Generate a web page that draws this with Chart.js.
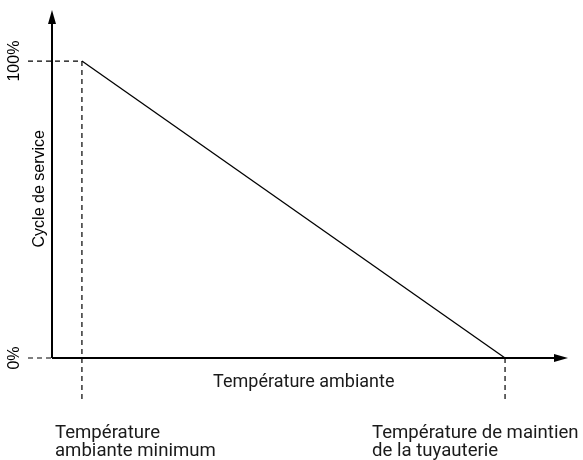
<!DOCTYPE html>
<html lang="fr">
<head>
<meta charset="utf-8">
<title>Cycle de service</title>
<script src="https://cdn.jsdelivr.net/npm/chart.js@4"></script>
<style>
  html, body { margin: 0; padding: 0; background: #fff; }
  #wrap { width: 583px; height: 460px; }
</style>
</head>
<body>
<div id="wrap"><canvas id="dutyChart" width="583" height="460"></canvas></div>
<script>
// températures (échelle relative 0..100 sur l'axe horizontal)
const tempMin = 5.8;       // température ambiante minimum
const tempMaint = 87.8;    // température de maintien de la tuyauterie
const tempAxisMax = 100;

// cycle de service (%)
const dutyValues = [100, 0];
const dutyAxisMax = 117.2;
const tickValues = [0, 100];
const tickLabels = ['0%', '100%'];

// prolongement des repères pointillés hors de la zone du graphe
const guideLeft = -4.65;
const guideBottom = -14.5;

const axisTitleX = 'Température ambiante';
const axisTitleY = 'Cycle de service';
const labelMin = ['Température', 'ambiante minimum'];
const labelMaint = ['Température de maintien', 'de la tuyauterie'];

const dash = [5, 4];

function seg(x0, y0, x1, y1) {
    return [{ x: x0, y: y0 }, { x: x1, y: y1 }];
}

const datasets = [
    // courbe du cycle de service
    {
        data: [{ x: tempMin, y: dutyValues[0] }, { x: tempMaint, y: dutyValues[1] }],
        borderColor: '#000', borderWidth: 1.3
    },
    // repères pointillés
    { data: seg(guideLeft, tickValues[1], tempMin, tickValues[1]), borderDash: dash },
    { data: seg(guideLeft, tickValues[0], 0, tickValues[0]), borderDash: dash },
    { data: seg(tempMin, tickValues[1], tempMin, guideBottom), borderDash: dash },
    { data: seg(tempMaint, 0, tempMaint, guideBottom), borderDash: dash },
    // axes
    { data: seg(0, 0, 0, dutyAxisMax - 3), borderWidth: 2 },
    { data: seg(0, 0, tempAxisMax - 2, 0), borderWidth: 2 }
].map(ds => Object.assign({
    borderColor: '#000', borderWidth: 1.2, pointRadius: 0,
    showLine: true, fill: false, clip: false
}, ds));

// flèches des axes et textes
const annotate = {
    id: 'annotate',
    afterDatasetsDraw(chart) {
        const ctx = chart.ctx;
        const xs = chart.scales.x, ys = chart.scales.y;
        const ox = xs.getPixelForValue(0), oy = ys.getPixelForValue(0);
        const topY = ys.getPixelForValue(dutyAxisMax);
        const rightX = xs.getPixelForValue(tempAxisMax);

        ctx.save();
        ctx.fillStyle = '#000';
        ctx.beginPath();
        ctx.moveTo(ox, topY);
        ctx.lineTo(ox - 4, topY + 14);
        ctx.lineTo(ox + 4, topY + 14);
        ctx.closePath();
        ctx.fill();
        ctx.beginPath();
        ctx.moveTo(rightX, oy);
        ctx.lineTo(rightX - 14, oy - 4);
        ctx.lineTo(rightX - 14, oy + 4);
        ctx.closePath();
        ctx.fill();

        // graduations et titre vertical
        ctx.font = '16px "Liberation Sans", Arial, sans-serif';
        ctx.textAlign = 'center';
        ctx.textBaseline = 'middle';
        tickValues.forEach((v, i) => {
            ctx.save();
            ctx.translate(15, ys.getPixelForValue(v));
            ctx.rotate(-Math.PI / 2);
            ctx.fillText(tickLabels[i], 0, 0);
            ctx.restore();
        });
        ctx.save();
        ctx.translate(40, ys.getPixelForValue(57));
        ctx.rotate(-Math.PI / 2);
        ctx.fillText(axisTitleY, 0, 0);
        ctx.restore();

        // textes horizontaux
        ctx.fillStyle = '#1a1a1a';
        ctx.font = '18px Roboto, sans-serif';
        ctx.fillText(axisTitleX, xs.getPixelForValue(48.8), oy + 24);
        ctx.font = '18.6px Roboto, sans-serif';
        ctx.textAlign = 'left';
        ctx.textBaseline = 'alphabetic';
        labelMin.forEach((t, i) => ctx.fillText(t, 55, 438 + i * 18));
        labelMaint.forEach((t, i) => ctx.fillText(t, 372, 438 + i * 18));
        ctx.restore();
    }
};

new Chart(document.getElementById('dutyChart'), {
    type: 'scatter',
    data: { datasets: datasets },
    options: {
        responsive: false,
        animation: false,
        layout: { padding: { left: 52, right: 15, top: 10, bottom: 102 } },
        scales: {
            x: { type: 'linear', min: 0, max: tempAxisMax, display: false },
            y: { type: 'linear', min: 0, max: dutyAxisMax, display: false }
        },
        plugins: { legend: { display: false }, tooltip: { enabled: false } }
    },
    plugins: [annotate]
});
</script>
</body>
</html>
